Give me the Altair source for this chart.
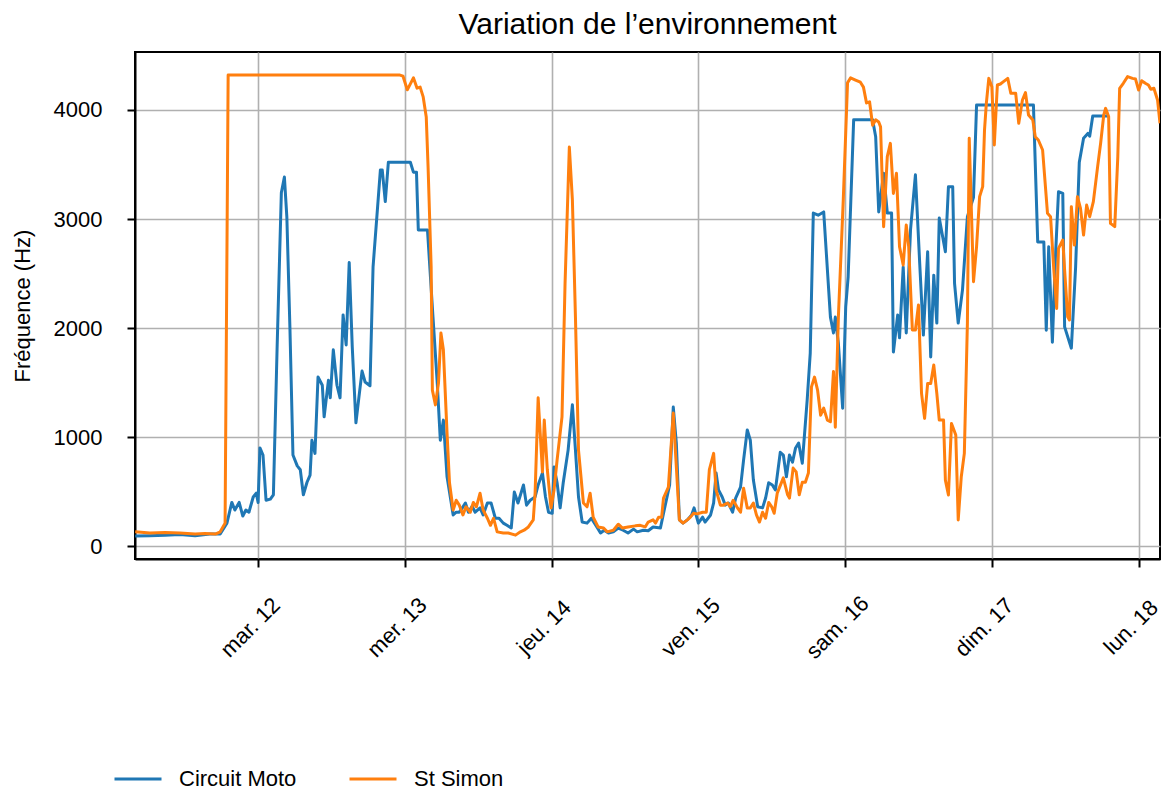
import altair as alt
import pandas as pd

FONT = "Liberation Sans"

SERIES = ["Circuit Moto", "St Simon"]
COLORS = ["#1f77b4", "#ff7f0e"]

# hours since 2024-03-11 00:00 (local) and frequency values (Hz)
moto_h = [3.9, 6.3, 8.8, 11.2, 13.7, 16.1, 17.8, 18.9, 19.7, 20.2,
          20.9, 21.5, 22.0, 22.5, 23.2, 23.7, 24.0, 24.3, 24.8, 25.3,
          26.0, 26.5, 27.1, 27.8, 28.3, 28.7, 29.2, 29.7, 30.4, 30.9,
          31.4, 32.0, 32.5, 32.8, 33.3, 33.8, 34.5, 34.8, 35.5, 35.8,
          36.3, 36.9, 37.4, 37.9, 38.4, 38.9, 39.4, 40.0, 40.5, 41.0,
          41.5, 42.3, 42.8, 43.5, 44.0, 44.3, 44.8, 45.3, 48.9, 49.4,
          49.9, 50.2, 51.7, 52.6, 53.3, 53.8, 54.3, 54.9, 55.9, 56.4,
          56.9, 57.4, 57.9, 58.4, 59.0, 59.5, 60.3, 60.8, 61.5, 62.1,
          62.8, 63.4, 64.1, 64.7, 65.4, 65.9, 66.5, 67.4, 67.9, 68.5,
          69.3, 69.8, 70.5, 71.0, 71.5, 72.1, 72.4, 72.9, 73.4, 73.9,
          74.7, 75.4, 75.9, 76.4, 77.0, 77.8, 78.5, 79.5, 80.0, 80.6,
          81.3, 82.1, 82.9, 83.7, 84.5, 85.4, 86.0, 87.0, 87.8, 88.6,
          89.8, 90.3, 91.3, 91.9, 92.4, 92.9, 93.5, 94.2, 94.9, 95.3,
          96.0, 96.7, 97.1, 98.0, 98.5, 98.9, 99.3, 99.9, 100.4, 100.9,
          101.6, 102.1, 102.9, 103.4, 104.0, 104.5, 105.0, 105.7, 106.5, 107.0,
          107.5, 108.1, 108.6, 109.4, 109.9, 110.4, 110.9, 111.4, 111.9, 112.4,
          113.0, 113.8, 114.3, 114.8, 115.6, 116.5, 117.6, 118.1, 118.4, 118.9,
          119.6, 120.1, 120.5, 121.4, 124.5, 125.0, 125.5, 126.3, 126.9, 127.6,
          127.9, 128.6, 128.9, 129.5, 130.0, 130.7, 131.5, 132.2, 132.8, 133.5,
          134.0, 134.5, 135.0, 135.4, 136.4, 136.9, 137.6, 137.9, 138.5, 139.2,
          140.0, 141.0, 141.5, 150.8, 151.5, 152.5, 152.9, 153.3, 153.9, 154.4,
          154.9, 155.6, 155.9, 157.0, 157.7, 158.3, 159.0, 159.7, 160.0, 160.5,
          163.1]
moto_v = [92, 95, 100, 105, 95, 110, 110, 210, 400, 330,
          400, 275, 330, 310, 450, 485, 400, 900, 835, 420,
          430, 470, 1800, 3240, 3385, 3020, 2010, 835, 735, 700,
          470, 585, 650, 970, 850, 1550, 1475, 1185, 1520, 1360,
          1800, 1475, 1360, 2120, 1845, 2600, 1825, 1130, 1370, 1605,
          1505, 1470, 2560, 3080, 3450, 3450, 3160, 3520, 3520, 3430,
          3430, 2900, 2900, 2100, 1495, 970, 1155, 635, 285, 310,
          310, 350, 395, 310, 365, 310, 350, 285, 395, 395,
          255, 255, 210, 190, 165, 495, 395, 560, 375, 420,
          450, 560, 670, 450, 310, 300, 725, 580, 350, 580,
          880, 1295, 880, 450, 220, 210, 255, 165, 120, 145,
          120, 130, 165, 145, 120, 155, 130, 145, 140, 175,
          165, 300, 560, 1275, 945, 240, 210, 240, 285, 350,
          210, 265, 220, 285, 395, 670, 515, 450, 375, 395,
          310, 440, 540, 790, 1065, 970, 605, 360, 350, 440,
          580, 560, 515, 860, 835, 635, 835, 770, 900, 945,
          760, 1340, 1770, 3055, 3035, 3065, 2100, 1955, 2100, 1860,
          1265, 2195, 2470, 3910, 3910, 3755, 3065, 3420, 3055, 3055,
          1780, 2120, 1910, 2560, 1955, 2900, 3405, 2595, 1935, 2700,
          1735, 2485, 2045, 3010, 2700, 3295, 3295, 2410, 2045, 2350,
          3020, 3200, 4045, 4045, 2790, 2790, 1980, 2745, 1870, 2650,
          3250, 3235, 2010, 1815, 2560, 3520, 3740, 3785, 3760, 3945,
          3945]

simon_h = [3.9, 6.3, 8.8, 11.2, 13.7, 15.3, 17.0, 17.8, 18.6, 19.1,
           47.2, 47.7, 48.4, 49.4, 50.0, 50.5, 51.0, 51.5, 51.8, 52.3,
           52.5, 53.0, 53.5, 53.9, 54.3, 54.9, 55.3, 55.9, 56.4, 56.9,
           57.5, 58.0, 58.7, 59.2, 59.7, 60.3, 60.8, 61.5, 62.0, 62.5,
           63.1, 64.1, 64.9, 66.1, 66.9, 67.5, 68.2, 69.0, 69.3, 69.8,
           70.5, 70.8, 71.3, 71.9, 72.4, 72.9, 73.7, 74.2, 74.9, 75.4,
           75.9, 76.4, 77.2, 77.8, 78.3, 78.8, 79.6, 80.5, 81.1, 82.1,
           82.9, 83.6, 84.5, 85.7, 86.5, 87.3, 87.8, 88.6, 89.0, 89.5,
           90.0, 90.3, 91.1, 91.9, 92.4, 92.9, 93.5, 94.2, 94.7, 95.2,
           95.8, 96.7, 97.3, 97.8, 98.5, 98.9, 99.6, 100.1, 100.8, 101.2,
           101.7, 102.4, 102.9, 103.4, 104.0, 104.5, 105.0, 105.5, 106.0, 106.5,
           107.0, 107.5, 108.0, 108.4, 108.9, 109.9, 110.6, 110.9, 111.5, 112.0,
           112.5, 113.0, 113.5, 114.0, 114.5, 115.0, 115.5, 116.0, 116.5, 117.1,
           117.6, 118.1, 118.4, 118.9, 119.7, 120.4, 120.9, 121.7, 122.5, 123.0,
           123.5, 124.0, 124.5, 125.0, 125.5, 125.8, 126.3, 126.9, 127.4, 127.9,
           128.4, 128.9, 129.5, 130.0, 130.4, 131.0, 131.5, 132.0, 132.5, 133.0,
           133.5, 134.0, 134.5, 135.0, 135.4, 136.1, 136.4, 136.9, 137.4, 138.1,
           138.5, 139.0, 139.5, 140.0, 140.3, 141.0, 141.5, 142.0, 142.5, 142.8,
           143.1, 143.5, 144.0, 144.4, 144.9, 145.4, 145.9, 146.6, 147.1, 147.9,
           148.4, 149.0, 149.5, 150.0, 150.7, 151.1, 151.6, 152.3, 153.1, 153.6,
           154.1, 154.6, 154.9, 155.6, 155.9, 156.4, 156.7, 157.0, 157.5, 158.0,
           158.5, 159.0, 159.5, 160.0, 160.6, 161.3, 161.8, 162.3, 162.6, 163.1,
           163.4, 164.1, 164.6, 164.9, 165.5, 166.2, 167.0, 167.5, 168.0, 168.5,
           169.1, 169.6, 170.0, 170.5, 171.1, 171.5]
simon_v = [130, 120, 125, 120, 110, 115, 110, 130, 210, 4320,
           4320, 4310, 4185, 4295, 4200, 4210, 4120, 3935, 3475, 2560,
           1430, 1295, 1495, 1955, 1800, 1035, 580, 330, 420, 375,
           285, 360, 310, 400, 360, 485, 330, 255, 190, 255,
           130, 120, 120, 100, 130, 145, 175, 240, 485, 1360,
           680, 1155, 700, 350, 515, 790, 1185, 2410, 3660, 3175,
           2100, 880, 395, 360, 485, 265, 175, 165, 130, 145,
           200, 165, 175, 185, 190, 175, 220, 240, 210, 265,
           265, 440, 540, 1220, 725, 240, 210, 240, 265, 300,
           295, 310, 310, 700, 850, 515, 375, 375, 395, 360,
           420, 350, 310, 530, 350, 350, 395, 285, 220, 310,
           255, 400, 360, 300, 485, 625, 470, 440, 715, 680,
           470, 585, 585, 670, 1460, 1550, 1430, 1200, 1265, 1155,
           1140, 1600, 1090, 2100, 3175, 4250, 4295, 4275, 4255, 4210,
           4065, 4075, 3860, 3910, 3890, 3845, 2930, 3572, 3694, 3235,
           3419, 2746, 2578, 2945, 2746, 1982, 1982, 2211, 1401, 1171,
           1492, 1492, 1661, 1401, 1156, 1156, 605, 468, 1125, 1018,
           239, 636, 850, 2043, 3740, 2425, 2746, 3205, 3297, 3816,
           4061, 4290, 4214, 3679, 4229, 4238, 4260, 4290, 4153, 4153,
           3878, 4092, 4159, 3954, 3908, 3755, 3725, 3633, 3052, 3021,
           2563, 2180, 2731, 2807, 2532, 2104, 2073, 3113, 2761, 3205,
           3098, 2853, 3128, 3021, 3159, 3480, 3700, 3954, 4015, 3939,
           2960, 2930, 3572, 4199, 4245, 4306, 4290, 4284, 4183, 4269,
           4245, 4229, 4190, 4199, 4092, 3878]

Y_TICKS = [0, 1000, 2000, 3000, 4000]
X_TICK_DAYS = [12, 13, 14, 15, 16, 17, 18]
WEEKDAYS_FR = ["dim.", "lun.", "mar.", "mer.", "jeu.", "ven.", "sam."]

base = pd.Timestamp("2024-03-11 00:00:00")


def stamps(hours):
    return [(base + pd.Timedelta(hours=h)).strftime("%Y-%m-%dT%H:%M:%S") for h in hours]


df = pd.concat([
    pd.DataFrame({"time": stamps(moto_h), "freq": moto_v, "serie": SERIES[0]}),
    pd.DataFrame({"time": stamps(simon_h), "freq": simon_v, "serie": SERIES[1]}),
], ignore_index=True)

label_expr = ("[" + ",".join("'%s'" % d for d in WEEKDAYS_FR) + "][day(datum.value)]"
              " + ' ' + date(datum.value)")

x_axis = alt.Axis(
    values=[alt.DateTime(year=2024, month=3, date=d) for d in X_TICK_DAYS],
    labelExpr=label_expr,
    labelAngle=315,
    labelAlign="center",
    labelBaseline="middle",
    labelPadding=60,
    labelOffset=-8,
    tickSize=8,
    title=None,
)

y_axis = alt.Axis(
    values=Y_TICKS,
    format="d",
    title="Fréquence (Hz)",
    tickSize=8,
    labelPadding=25,
    titlePadding=19,
)

chart = (
    alt.Chart(df)
    .mark_line(strokeWidth=3, clip=True, strokeJoin="round")
    .encode(
        x=alt.X(
            "time:T",
            scale=alt.Scale(domain=[
                alt.DateTime(year=2024, month=3, date=11, hours=3, minutes=52),
                alt.DateTime(year=2024, month=3, date=18, hours=3, minutes=30),
            ]),
            axis=x_axis,
        ),
        y=alt.Y("freq:Q", scale=alt.Scale(domain=[-119, 4532], nice=False, zero=False), axis=y_axis),
        color=alt.Color(
            "serie:N",
            scale=alt.Scale(domain=SERIES, range=COLORS),
            legend=alt.Legend(
                orient="none",
                legendX=-22,
                legendY=702,
                direction="horizontal",
                title=None,
                symbolType="stroke",
                symbolSize=2209,
                symbolStrokeWidth=3,
                labelFontSize=22,
                labelFont=FONT,
                labelColor="black",
                labelOffset=16,
                columnPadding=46,
            ),
        ),
    )
    .properties(
        width=1025,
        height=507,
        autosize="none",
        padding={"left": 127, "top": 44, "right": 2, "bottom": 234},
        title=alt.TitleParams(
            "Variation de l’environnement",
            fontSize=30,
            font=FONT,
            fontWeight="normal",
            color="black",
            anchor="middle",
            offset=12,
        ),
    )
    .configure_axis(
        labelFont=FONT,
        titleFont=FONT,
        labelFontSize=22,
        titleFontSize=22,
        titleFontWeight="normal",
        labelColor="black",
        titleColor="black",
        domainColor="black",
        domainWidth=2,
        tickColor="black",
        tickWidth=2,
        grid=True,
        gridColor="#b0b0b0",
        gridWidth=1.6,
    )
    .configure_view(stroke="black", strokeWidth=2)
)

chart.save("out.html", embed_options={"renderer": "svg", "actions": False})
